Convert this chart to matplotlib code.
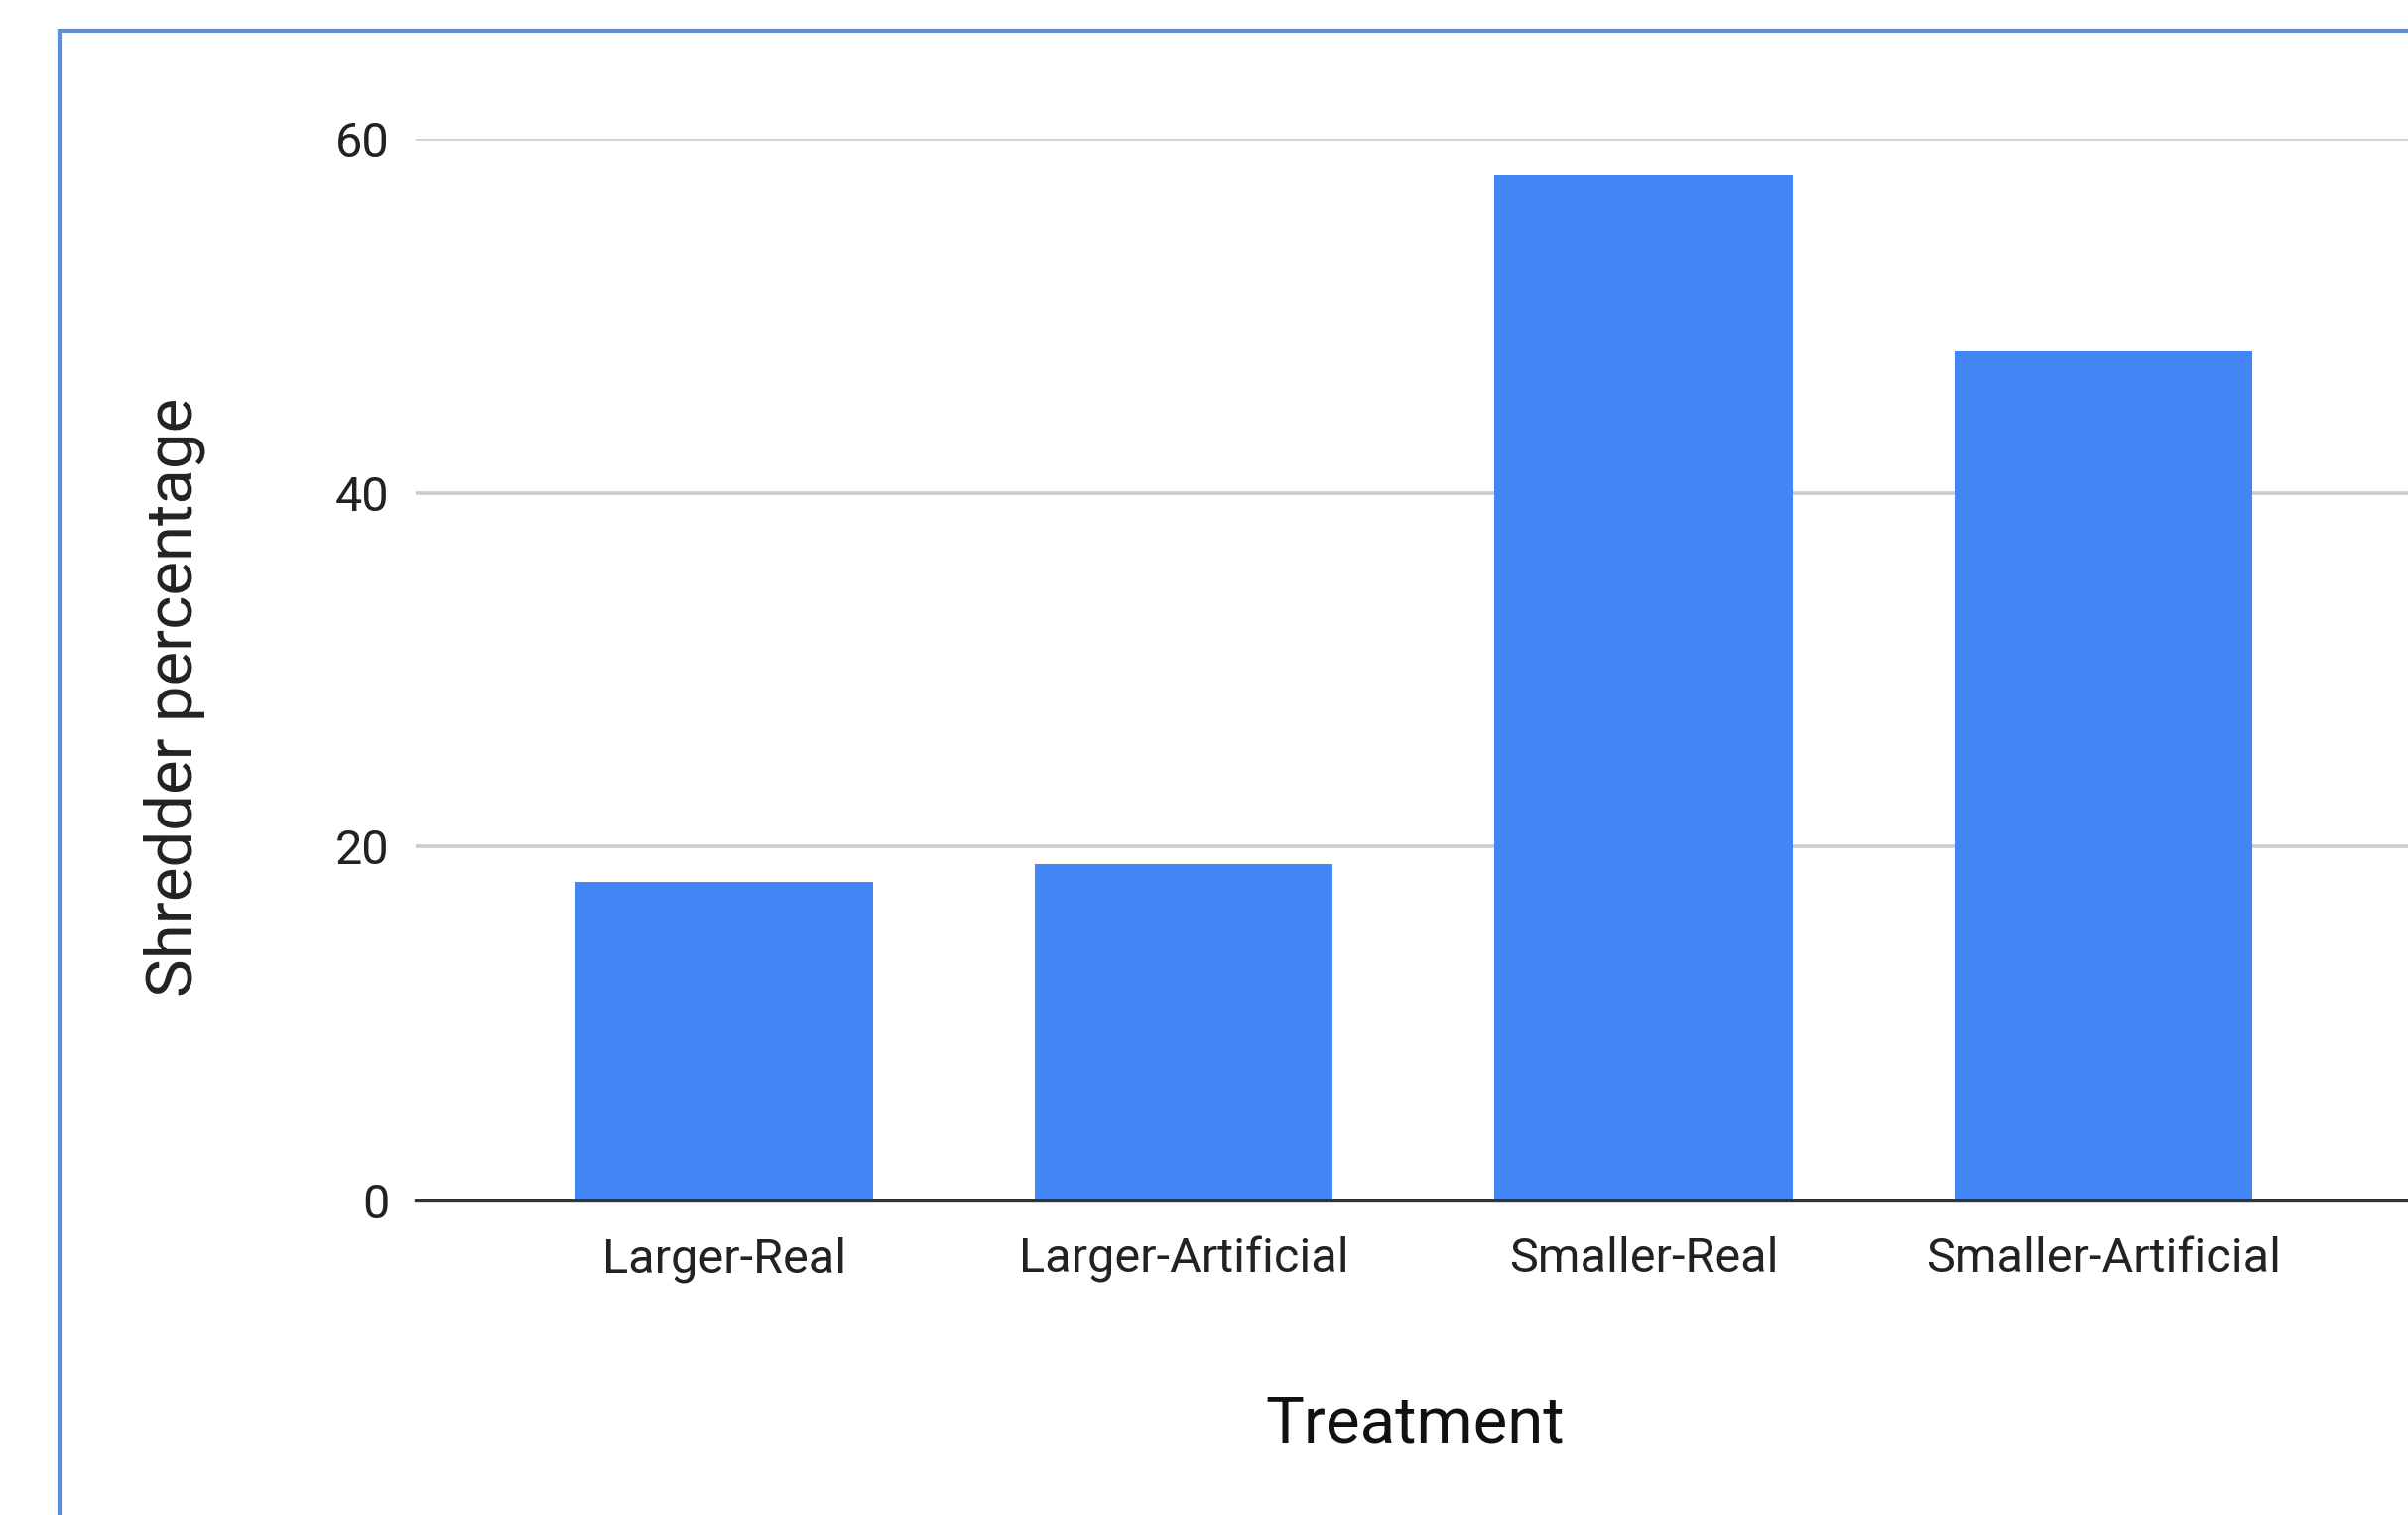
import numpy as np
import matplotlib
matplotlib.use('Agg')
import matplotlib.pyplot as plt
from matplotlib.patches import Rectangle

plt.rcParams['font.family'] = ['Roboto', 'DejaVu Sans']

treatments = ['Larger-Real', 'Larger-Artificial', 'Smaller-Real', 'Smaller-Artificial']
shredder_pct = [18, 19, 58, 48]
y_ticks = [0, 20, 40, 60]

W, H = 2427, 1527
fig = plt.figure(figsize=(W/100, H/100), dpi=100)
fig.patch.set_facecolor('white')

# chart area in pixel terms of the reference
ax = fig.add_axes([419/W, 1 - 1210/H, 1 - 419/W, (1210 - 140)/H])

x = np.arange(len(treatments))
ax.bar(x, shredder_pct, width=0.648, color='#4285f4', zorder=2)

ax.set_xlim(-0.671, 3.663)
ax.set_ylim(0, 60)
ax.set_yticks(y_ticks)
ax.set_yticklabels([str(t) for t in y_ticks])
ax.set_xticks(x)
ax.set_xticklabels(treatments)

ax.grid(axis='y', color='#cccccc', linewidth=2.6, zorder=0)
ax.axhline(0, color='#333333', linewidth=2.4, zorder=3, clip_on=False)
for s in ax.spines.values():
    s.set_visible(False)
ax.tick_params(axis='both', length=0, labelsize=35, colors='#222222')
ax.tick_params(axis='x', pad=26)
ax.tick_params(axis='y', pad=19)

fig.text(1426/W, 1 - 1435/H, 'Treatment', fontsize=47, color='#111111',
         ha='center', va='center')
fig.text(176/W, 1 - 703/H, 'Shredder percentage', fontsize=47, color='#222222',
         ha='center', va='center', rotation=90)

# blue selection border from the screenshot
fig.patches.append(Rectangle((60/W, -0.2), 2.0, 1.2 - 31/H, transform=fig.transFigure,
                             fill=False, edgecolor='#5b8fdd', linewidth=3.0))

fig.savefig('out.png', dpi=100)
